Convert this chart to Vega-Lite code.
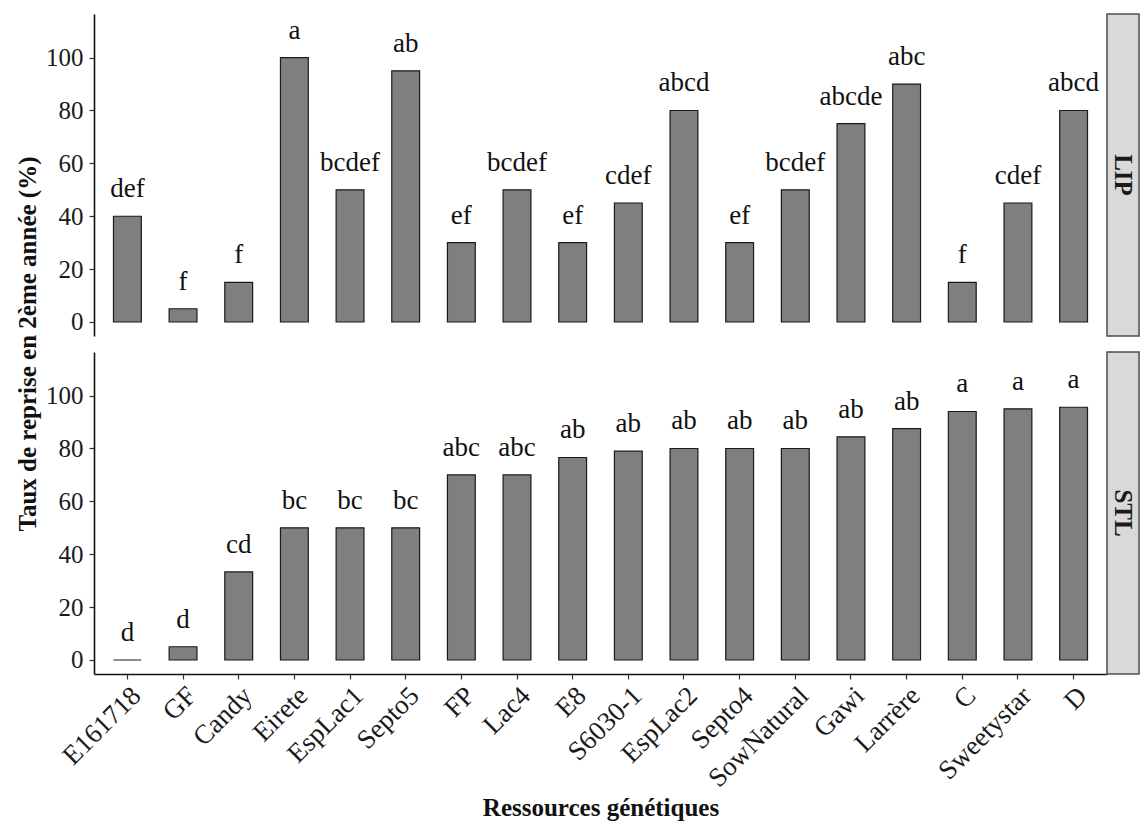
{
  "$schema": "https://vega.github.io/schema/vega-lite/v6.json",
  "padding": {"left": 15, "top": 13, "right": 0, "bottom": 4},
  "background": "white",
  "config": {"font": "Liberation Serif", "view": {"stroke": null},
             "axis": {"labelFont": "Liberation Serif", "titleFont": "Liberation Serif"},
             "text": {"font": "Liberation Serif"}},
  "datasets": {
    "d": [
      {"site": "LIP", "geno": "E161718", "taux": 40, "lab": "def"},
      {"site": "LIP", "geno": "GF", "taux": 5, "lab": "f"},
      {"site": "LIP", "geno": "Candy", "taux": 15, "lab": "f"},
      {"site": "LIP", "geno": "Eirete", "taux": 100, "lab": "a"},
      {"site": "LIP", "geno": "EspLac1", "taux": 50, "lab": "bcdef"},
      {"site": "LIP", "geno": "Septo5", "taux": 95, "lab": "ab"},
      {"site": "LIP", "geno": "FP", "taux": 30, "lab": "ef"},
      {"site": "LIP", "geno": "Lac4", "taux": 50, "lab": "bcdef"},
      {"site": "LIP", "geno": "E8", "taux": 30, "lab": "ef"},
      {"site": "LIP", "geno": "S6030-1", "taux": 45, "lab": "cdef"},
      {"site": "LIP", "geno": "EspLac2", "taux": 80, "lab": "abcd"},
      {"site": "LIP", "geno": "Septo4", "taux": 30, "lab": "ef"},
      {"site": "LIP", "geno": "SowNatural", "taux": 50, "lab": "bcdef"},
      {"site": "LIP", "geno": "Gawi", "taux": 75, "lab": "abcde"},
      {"site": "LIP", "geno": "Larrère", "taux": 90, "lab": "abc"},
      {"site": "LIP", "geno": "C", "taux": 15, "lab": "f"},
      {"site": "LIP", "geno": "Sweetystar", "taux": 45, "lab": "cdef"},
      {"site": "LIP", "geno": "D", "taux": 80, "lab": "abcd"},
      {"site": "STL", "geno": "E161718", "taux": 0, "lab": "d"},
      {"site": "STL", "geno": "GF", "taux": 5, "lab": "d"},
      {"site": "STL", "geno": "Candy", "taux": 33.3, "lab": "cd"},
      {"site": "STL", "geno": "Eirete", "taux": 50, "lab": "bc"},
      {"site": "STL", "geno": "EspLac1", "taux": 50, "lab": "bc"},
      {"site": "STL", "geno": "Septo5", "taux": 50, "lab": "bc"},
      {"site": "STL", "geno": "FP", "taux": 70, "lab": "abc"},
      {"site": "STL", "geno": "Lac4", "taux": 70, "lab": "abc"},
      {"site": "STL", "geno": "E8", "taux": 76.6, "lab": "ab"},
      {"site": "STL", "geno": "S6030-1", "taux": 79, "lab": "ab"},
      {"site": "STL", "geno": "EspLac2", "taux": 80, "lab": "ab"},
      {"site": "STL", "geno": "Septo4", "taux": 80, "lab": "ab"},
      {"site": "STL", "geno": "SowNatural", "taux": 80, "lab": "ab"},
      {"site": "STL", "geno": "Gawi", "taux": 84.4, "lab": "ab"},
      {"site": "STL", "geno": "Larrère", "taux": 87.5, "lab": "ab"},
      {"site": "STL", "geno": "C", "taux": 94, "lab": "a"},
      {"site": "STL", "geno": "Sweetystar", "taux": 95, "lab": "a"},
      {"site": "STL", "geno": "D", "taux": 95.6, "lab": "a"}
    ]
  },
  "bounds": "flush",
  "columns": 2,
  "spacing": {"row": 16, "column": 0},
  "concat": [
    {
      "width": 1013,
      "height": 322,
      "data": {"name": "d"},
      "transform": [{"filter": "datum.site === 'LIP'"}],
      "encoding": {
        "x": {"field": "geno", "type": "nominal", "sort": null,
              "scale": {"paddingInner": 0.5, "paddingOuter": 0.35}, "axis": null},
        "y": {"field": "taux", "type": "quantitative",
              "scale": {"domain": [-5.3, 116.5], "nice": false, "zero": false},
              "axis": {"title": "Taux de reprise en 2ème année (%)", "values": [0, 20, 40, 60, 80, 100],
                       "grid": false, "titleFont": "Liberation Serif", "titleFontSize": 25, "titleFontWeight": "bold", "titleColor": "#111",
                       "titleX": -59, "titleY": 329.5, "titleBaseline": "alphabetic", "titleAngle": -90, "titleAlign": "center",
                       "domainColor": "#111", "domainWidth": 1.6, "tickColor": "#333", "tickWidth": 1.2, "tickSize": 5,
                       "labelFont": "Liberation Serif", "labelFontSize": 25, "labelColor": "#1a1a1a", "labelPadding": 6}}
      },
      "layer": [
        {"mark": {"type": "bar", "fill": "#7f7f7f", "stroke": "#1a1a1a", "strokeWidth": 1.2}},
        {"mark": {"type": "text", "font": "Liberation Serif", "fontSize": 27, "baseline": "alphabetic", "dy": -19, "color": "#111"},
         "encoding": {"text": {"field": "lab"}}}
      ]
    },
    {
      "width": 32,
      "height": 322,
      "data": {"values": [{"site": "LIP"}]},
      "view": {"fill": "#d9d9d9", "stroke": "#4d4d4d", "strokeWidth": 1.5},
      "mark": {"type": "text", "font": "Liberation Serif", "angle": 90, "fontSize": 25, "fontWeight": "bold", "color": "#1a1a1a", "baseline": "middle", "align": "center"},
      "encoding": {"text": {"field": "site"}}
    },
    {
      "width": 1013,
      "height": 322,
      "data": {"name": "d"},
      "transform": [{"filter": "datum.site === 'STL'"}],
      "encoding": {
        "x": {"field": "geno", "type": "nominal", "sort": null,
              "scale": {"paddingInner": 0.5, "paddingOuter": 0.35},
              "axis": {"title": "Ressources génétiques", "titleFont": "Liberation Serif", "titleFontSize": 25, "titleFontWeight": "bold", "titleColor": "#111",
                       "titleX": 506.5, "titleY": 141, "titleBaseline": "alphabetic",
                       "labelAngle": -45, "labelAlign": "right", "labelBaseline": "top",
                       "labelFont": "Liberation Serif", "labelFontSize": 27, "labelColor": "#1a1a1a", "labelPadding": 3,
                       "domainColor": "#111", "domainWidth": 1.6, "tickColor": "#333", "tickWidth": 1.2, "tickSize": 5}},
        "y": {"field": "taux", "type": "quantitative",
              "scale": {"domain": [-5.3, 116.5], "nice": false, "zero": false},
              "axis": {"title": null, "values": [0, 20, 40, 60, 80, 100], "grid": false,
                       "domainColor": "#111", "domainWidth": 1.6, "tickColor": "#333", "tickWidth": 1.2, "tickSize": 5,
                       "labelFont": "Liberation Serif", "labelFontSize": 25, "labelColor": "#1a1a1a", "labelPadding": 6}}
      },
      "layer": [
        {"mark": {"type": "bar", "fill": "#7f7f7f", "stroke": "#1a1a1a", "strokeWidth": 1.2}},
        {"mark": {"type": "text", "font": "Liberation Serif", "fontSize": 27, "baseline": "alphabetic", "dy": -19, "color": "#111"},
         "encoding": {"text": {"field": "lab"}}}
      ]
    },
    {
      "width": 32,
      "height": 322,
      "data": {"values": [{"site": "STL"}]},
      "view": {"fill": "#d9d9d9", "stroke": "#4d4d4d", "strokeWidth": 1.5},
      "mark": {"type": "text", "font": "Liberation Serif", "angle": 90, "fontSize": 25, "fontWeight": "bold", "color": "#1a1a1a", "baseline": "middle", "align": "center"},
      "encoding": {"text": {"field": "site"}}
    }
  ]
}
